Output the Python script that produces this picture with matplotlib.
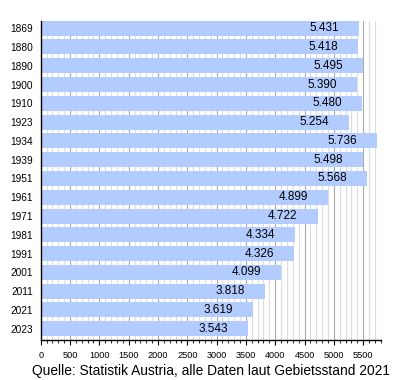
import matplotlib
matplotlib.use("Agg")
import matplotlib.pyplot as plt
from matplotlib.ticker import MultipleLocator
import numpy as np

plt.rcParams['font.family'] = ['Liberation Sans', 'DejaVu Sans']

years = ["1869", "1880", "1890", "1900", "1910", "1923", "1934", "1939", "1951",
         "1961", "1971", "1981", "1991", "2001", "2011", "2021", "2023"]
population = [5431, 5418, 5495, 5390, 5480, 5254, 5736, 5498, 5568,
              4899, 4722, 4334, 4326, 4099, 3818, 3619, 3543]
value_labels = ["5.431", "5.418", "5.495", "5.390", "5.480", "5.254", "5.736", "5.498", "5.568",
                "4.899", "4.722", "4.334", "4.326", "4.099", "3.818", "3.619", "3.543"]
source = "Quelle: Statistik Austria, alle Daten laut Gebietsstand 2021"

fig = plt.figure(figsize=(4, 3.8), dpi=100)
ax = fig.add_axes([0.1018, 0.1053, 0.85, 0.8403])

pos = np.arange(len(years))
ax.barh(pos, population, height=0.8, color="#b3ccff", zorder=2)

for p, v, lab in zip(pos, population, value_labels):
    ax.annotate(lab, (v, p), xytext=(-20, 0), textcoords="offset pixels",
                ha="right", va="center", fontsize=8.5, color="black", zorder=3)

ax.set_xlim(0, 5800)
ax.set_ylim(16.6, -0.4)
ax.xaxis.set_major_locator(MultipleLocator(500))
ax.xaxis.set_minor_locator(MultipleLocator(100))
ax.grid(axis="x", which="major", color="#aaaaaa", linewidth=0.8, zorder=0)
ax.grid(axis="x", which="minor", color="#dddddd", linewidth=0.8, zorder=0)
ax.set_axisbelow(True)

ax.set_yticks(pos)
ax.set_yticklabels(years, fontsize=7.3)
ax.tick_params(axis="y", length=0, pad=5.5)
ax.tick_params(axis="x", which="major", length=3.5, width=0.8, labelsize=6.6, pad=4.5)
ax.tick_params(axis="x", which="minor", length=2, width=0.6)

for s in ["top", "right"]:
    ax.spines[s].set_visible(False)
ax.spines["left"].set_linewidth(1)
ax.spines["bottom"].set_linewidth(1)

ax.set_xlabel(source, fontsize=9.9, labelpad=3)

fig.savefig("out.png", dpi=100)
